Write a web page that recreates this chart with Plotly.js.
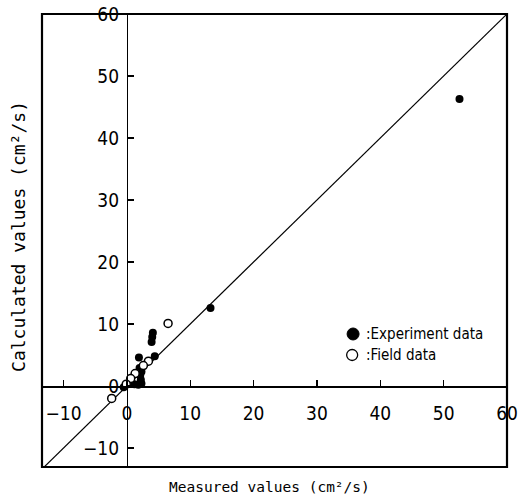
<!DOCTYPE html>
<html>
<head>
<meta charset="utf-8">
<script src="https://cdn.plot.ly/plotly-3.0.1.min.js"></script>
<style>
  html, body { margin: 0; padding: 0; background: #fff; }
  #chart { width: 518px; height: 498px; }
</style>
</head>
<body>
<div id="chart"></div>
<script>
// Diffusion coefficient: calculated vs measured (cm²/s)
const experimentMeasured   = [52.5, 13.2, 4.1, 4.0, 3.9, 1.9, 4.4, 2.0, 2.3, 2.1, 2.2, 2.3, 1.8, 1.2, -0.5];
const experimentCalculated = [46.3, 12.6, 8.6, 7.9, 7.1, 4.6, 4.8, 2.9, 2.3, 1.7, 1.0, 0.4, 0.2, 0.3, -0.2];

const fieldMeasured   = [6.5, 3.4, 2.6, 1.3, 0.6, -0.1, -2.4];
const fieldCalculated = [10.1, 4.0, 3.3, 2.0, 1.2, 0.3, -2.0];

const tickValues = [-10, 0, 10, 20, 30, 40, 50, 60];
const equalityLine = [-14, 60];

const legendLabels = [':Experiment data', ':Field data'];
const xTitle = 'Measured values (cm²/s)';
const yTitle = 'Calculated values (cm²/s)';

const xRange = [-13.4, 60];
const yRange = [-13.06, 60];

// place each axis on the other's zero
const xAxisPos = (0 - yRange[0]) / (yRange[1] - yRange[0]);
const yAxisPos = (0 - xRange[0]) / (xRange[1] - xRange[0]);

const narrow = '"Liberation Sans Narrow", "DejaVu Sans Condensed", "Arial Narrow", sans-serif';
const mono = '"DejaVu Sans Mono", "Liberation Mono", monospace';

const traces = [
  {
    x: equalityLine, y: equalityLine, mode: 'lines',
    line: { color: '#000', width: 1.2 }, hoverinfo: 'skip', showlegend: false
  },
  {
    x: experimentMeasured, y: experimentCalculated, mode: 'markers',
    name: legendLabels[0],
    marker: { symbol: 'circle', size: 8, color: '#000' }, showlegend: false
  },
  {
    x: fieldMeasured, y: fieldCalculated, mode: 'markers',
    name: legendLabels[1],
    marker: { symbol: 'circle', size: 8, color: '#fff', line: { color: '#000', width: 1.5 } },
    showlegend: false
  }
];

const axisCommon = {
  showgrid: false, zeroline: false, showline: true,
  linecolor: '#000', linewidth: 1.5,
  ticks: 'inside', ticklen: 6, tickwidth: 1.3, tickcolor: '#000',
  tickmode: 'array', tickvals: tickValues,
  tickfont: { family: narrow, size: 19, color: '#000' }
};

const layout = {
  width: 518, height: 498,
  margin: { l: 42, r: 11, t: 14, b: 31 },
  paper_bgcolor: '#fff', plot_bgcolor: '#fff',
  showlegend: false,
  xaxis: Object.assign({}, axisCommon, {
    range: xRange, anchor: 'free', position: xAxisPos, side: 'bottom',
    ticklabelstandoff: 10
  }),
  yaxis: Object.assign({}, axisCommon, {
    range: yRange, anchor: 'free', position: yAxisPos, side: 'left',
    ticklabelstandoff: 4
  }),
  shapes: [
    { type: 'rect', xref: 'paper', yref: 'paper', x0: 0, x1: 1, y0: 0, y1: 1,
      line: { color: '#000', width: 2.2 } },
    // legend symbols
    { type: 'circle', xref: 'paper', yref: 'paper', xsizemode: 'pixel', ysizemode: 'pixel',
      xanchor: 0.669, yanchor: 0.2936, x0: -6, x1: 6, y0: -6, y1: 6,
      fillcolor: '#000', line: { color: '#000', width: 1 } },
    { type: 'circle', xref: 'paper', yref: 'paper', xsizemode: 'pixel', ysizemode: 'pixel',
      xanchor: 0.667, yanchor: 0.2472, x0: -5.5, x1: 5.5, y0: -5.5, y1: 5.5,
      fillcolor: '#fff', line: { color: '#000', width: 1.3 } }
  ],
  annotations: [
    { text: legendLabels[0], xref: 'paper', yref: 'paper', x: 0.692, y: 0.2936,
      xanchor: 'left', yanchor: 'middle', showarrow: false,
      font: { family: narrow, size: 15, color: '#000' } },
    { text: legendLabels[1], xref: 'paper', yref: 'paper', x: 0.692, y: 0.2472,
      xanchor: 'left', yanchor: 'middle', showarrow: false,
      font: { family: narrow, size: 15, color: '#000' } },
    { text: xTitle, xref: 'paper', yref: 'paper', x: 0.489, y: -0.0442,
      xanchor: 'center', yanchor: 'middle', showarrow: false,
      font: { family: mono, size: 14.5, color: '#000' } },
    { text: yTitle, xref: 'paper', yref: 'paper', x: -0.0495, y: 0.51,
      xanchor: 'center', yanchor: 'middle', textangle: -90, showarrow: false,
      font: { family: mono, size: 18, color: '#000' } }
  ]
};

Plotly.newPlot('chart', traces, layout, { displayModeBar: false, staticPlot: true });
</script>
</body>
</html>
